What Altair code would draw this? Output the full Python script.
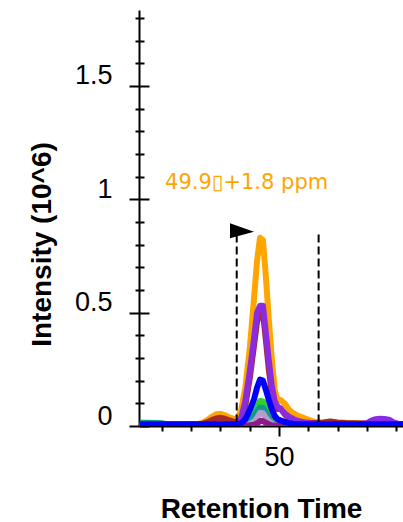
import altair as alt
import pandas as pd

# Retention times (min) of the sampled chromatogram points
rt = [40.5, 41.0, 41.5, 42.0, 42.5, 43.0, 43.5, 44.0, 44.5, 44.8,
      45.1, 45.4, 45.7, 46.0, 46.3, 46.6, 46.9, 47.1, 47.4, 47.7,
      48.0, 48.3, 48.5, 48.7, 48.9, 49.1, 49.3, 49.5, 49.7, 49.9,
      50.1, 50.4, 50.7, 51.0, 51.3, 51.7, 52.1, 52.5, 53.0, 53.5,
      54.0, 54.5, 55.0, 55.5, 56.0, 56.3, 56.6, 56.9, 57.2, 57.5,
      57.8, 58.1, 58.5]

# Intensities (10^6) per transition, in drawing order
orange = [0.007, 0.007, 0.008, 0.007, 0.008, 0.007, 0.008, 0.008, 0.009, 0.014,
          0.026, 0.040, 0.052, 0.053, 0.047, 0.038, 0.032, 0.030, 0.065, 0.17,
          0.34, 0.57, 0.73, 0.83, 0.82, 0.66, 0.47, 0.30, 0.16, 0.115,
          0.115, 0.098, 0.070, 0.055, 0.045, 0.035, 0.025, 0.017, 0.013, 0.014,
          0.013, 0.014, 0.012, 0.012, 0.011, 0.010, 0.010, 0.011, 0.010, 0.010,
          0.010, 0.009, 0.009]
brown = [0.006, 0.006, 0.006, 0.006, 0.006, 0.006, 0.006, 0.006, 0.007, 0.010,
         0.017, 0.026, 0.033, 0.036, 0.032, 0.025, 0.019, 0.016, 0.028, 0.09,
         0.21, 0.36, 0.46, 0.50, 0.50, 0.38, 0.25, 0.15, 0.09, 0.075,
         0.078, 0.050, 0.035, 0.025, 0.020, 0.016, 0.014, 0.013, 0.016, 0.020,
         0.016, 0.013, 0.012, 0.011, 0.010, 0.009, 0.009, 0.010, 0.009, 0.009,
         0.008, 0.008, 0.008]
violet = [0.007, 0.007, 0.007, 0.007, 0.007, 0.007, 0.007, 0.007, 0.007, 0.007,
          0.007, 0.007, 0.007, 0.007, 0.007, 0.007, 0.007, 0.010, 0.030, 0.11,
          0.24, 0.39, 0.50, 0.53, 0.53, 0.41, 0.29, 0.18, 0.11, 0.085,
          0.075, 0.055, 0.040, 0.030, 0.022, 0.016, 0.012, 0.010, 0.009, 0.009,
          0.009, 0.009, 0.009, 0.009, 0.012, 0.024, 0.030, 0.032, 0.031, 0.028,
          0.016, 0.010, 0.009]
green = [0.004, 0.004, 0.004, 0.004, 0.004, 0.004, 0.004, 0.004, 0.004, 0.004,
         0.004, 0.004, 0.004, 0.004, 0.004, 0.004, 0.004, 0.004, 0.004, 0.010,
         0.025, 0.055, 0.085, 0.110, 0.108, 0.080, 0.055, 0.035, 0.020, 0.012,
         0.008, 0.004, 0.004, 0.004, 0.004, 0.004, 0.004, 0.004, 0.004, 0.004,
         0.004, 0.004, 0.004, 0.004, 0.004, 0.004, 0.004, 0.004, 0.004, 0.004,
         0.004, 0.004, 0.004]
teal = [0.014, 0.014, 0.013, 0.012, 0.006, 0.005, 0.005, 0.005, 0.005, 0.005,
        0.005, 0.005, 0.005, 0.005, 0.005, 0.005, 0.005, 0.005, 0.005, 0.008,
        0.020, 0.045, 0.065, 0.082, 0.080, 0.060, 0.040, 0.025, 0.015, 0.010,
        0.005, 0.005, 0.005, 0.005, 0.005, 0.005, 0.005, 0.005, 0.005, 0.005,
        0.005, 0.005, 0.005, 0.005, 0.005, 0.005, 0.005, 0.005, 0.005, 0.005,
        0.005, 0.005, 0.005]
lilac = [0.003, 0.003, 0.003, 0.003, 0.003, 0.003, 0.003, 0.003, 0.003, 0.003,
         0.003, 0.003, 0.003, 0.003, 0.003, 0.003, 0.003, 0.003, 0.003, 0.004,
         0.008, 0.020, 0.035, 0.058, 0.056, 0.035, 0.020, 0.010, 0.004, 0.003,
         0.003, 0.003, 0.003, 0.003, 0.003, 0.003, 0.003, 0.003, 0.003, 0.003,
         0.003, 0.003, 0.003, 0.003, 0.003, 0.003, 0.003, 0.003, 0.003, 0.003,
         0.003, 0.003, 0.003]
plum = [0.002, 0.002, 0.002, 0.002, 0.002, 0.002, 0.002, 0.002, 0.002, 0.002,
        0.002, 0.002, 0.002, 0.002, 0.002, 0.002, 0.002, 0.002, 0.002, 0.002,
        0.003, 0.006, 0.012, 0.022, 0.022, 0.014, 0.008, 0.003, 0.002, 0.002,
        0.002, 0.002, 0.002, 0.002, 0.002, 0.002, 0.002, 0.002, 0.002, 0.002,
        0.002, 0.002, 0.002, 0.002, 0.002, 0.002, 0.002, 0.002, 0.002, 0.002,
        0.002, 0.002, 0.002]
blue = [0.008, 0.008, 0.008, 0.008, 0.008, 0.008, 0.008, 0.008, 0.008, 0.008,
        0.008, 0.008, 0.008, 0.008, 0.008, 0.008, 0.008, 0.008, 0.012, 0.030,
        0.070, 0.120, 0.170, 0.205, 0.200, 0.160, 0.115, 0.075, 0.045, 0.030,
        0.025, 0.018, 0.012, 0.009, 0.008, 0.008, 0.008, 0.008, 0.008, 0.008,
        0.008, 0.008, 0.008, 0.008, 0.008, 0.008, 0.008, 0.008, 0.008, 0.008,
        0.008, 0.008, 0.008]

series_names = ["s1", "s2", "s3", "s4", "s5", "s6", "s7", "s8"]
series_values = [orange, brown, violet, green, teal, lilac, plum, blue]
series_colors = ["#FFA500", "#A52A2A", "#8A2BE2", "#32CD32", "#0E9A8E",
                 "#B49CCB", "#8B1A8B", "#0000FF"]

# Peak integration boundaries and apex flag
boundary_rt = [47.11, 52.70]
boundary_top = [0.845, 0.845]
boundary_bottom = [0.018, 0.018]
flag_rt = [47.47]
flag_y = [0.861]
label_text = ["49.9\u25af+1.8 ppm"]
label_rt = [42.22]
label_y = [1.047]

y_ticks = [0.0, 0.1, 0.2, 0.3, 0.4, 0.5, 0.6, 0.7, 0.8, 0.9,
           1.0, 1.1, 1.2, 1.3, 1.4, 1.5, 1.6, 1.7, 1.8]
x_ticks = [42, 44, 46, 48, 50, 52, 54, 56, 58]

rows = []
for k, (name, vals) in enumerate(zip(series_names, series_values)):
    for t, v in zip(rt, vals):
        rows.append({"rt": t, "intensity": v, "series": name, "k": k})
df = pd.DataFrame(rows)

bounds = pd.DataFrame({"rt": boundary_rt, "top": boundary_top, "bottom": boundary_bottom})
flag = pd.DataFrame({"rt": flag_rt, "y": flag_y})
label = pd.DataFrame({"rt": label_rt, "y": label_y, "text": label_text})

W, H = 264, 416
xscale = alt.Scale(domain=[40.44, 58.46], nice=False, zero=False)
yscale = alt.Scale(domain=[0, 1.835], nice=False, zero=False)

major_y = "abs(datum.value*2 - round(datum.value*2)) < 0.001"
major_x = "datum.value == 50"
FONT = "Liberation Sans"

y_axis_left = alt.Axis(
    values=y_ticks, orient="left",
    tickSize={"condition": {"test": major_y, "value": 10}, "value": 4},
    tickWidth=2, tickColor="black", domainColor="black", domainWidth=2,
    labelExpr=f"{major_y} ? format(datum.value, '~g') : ''",
    labelFont=FONT, labelFontSize=27, labelColor="black",
    labelPadding=17, labelBaseline="alphabetic", labelOffset=-2,
    grid=False, title="Intensity (10^6)", titleFont=FONT, titleFontSize=28,
    titleFontWeight="bold", titleColor="black", titleBaseline="alphabetic",
    titleAngle=270, titleX=-89, titleY=234, titleAlign="center")

x_axis_bottom = alt.Axis(
    values=x_ticks, orient="bottom",
    tickSize={"condition": {"test": major_x, "value": 10}, "value": 5},
    tickWidth=2, tickColor="black", domainColor="black", domainWidth=2,
    labelExpr=f"{major_x} ? '50' : ''",
    labelFont=FONT, labelFontSize=27, labelColor="black",
    labelPadding=8, labelBaseline="top", labelFlush=False, labelOverlap=False,
    grid=False, title="Retention Time", titleFont=FONT, titleFontSize=28,
    titleFontWeight="bold", titleColor="black", titleBaseline="alphabetic",
    titleX=122, titleY=91, titleAlign="center")

y_axis_inner = alt.Axis(
    values=y_ticks, orient="right", offset=-W,
    tickSize={"condition": {"test": major_y, "value": 10}, "value": 5},
    tickWidth=2, tickColor="black", domain=False, labels=False, grid=False, title="")

x_axis_inner = alt.Axis(
    values=[50], orient="top", offset=-H, tickSize=8, tickWidth=2,
    tickColor="black", domain=False, labels=False, grid=False, title="")

lines = alt.Chart(df).mark_line(strokeWidth=6, clip=True, strokeJoin="round").encode(
    x=alt.X("rt:Q", scale=xscale, axis=x_axis_bottom),
    y=alt.Y("intensity:Q", scale=yscale, axis=y_axis_left),
    color=alt.Color("series:N", scale=alt.Scale(domain=series_names, range=series_colors), legend=None),
    order=alt.Order("rt:Q"),
)

inner = alt.Chart(df).mark_point(opacity=0).encode(
    x=alt.X("rt:Q", scale=xscale, axis=x_axis_inner),
    y=alt.Y("intensity:Q", scale=yscale, axis=y_axis_inner),
)

rules = alt.Chart(bounds).mark_rule(color="black", strokeWidth=2, strokeDash=[8, 4]).encode(
    x=alt.X("rt:Q", scale=xscale, axis=None),
    y=alt.Y("top:Q", scale=yscale, axis=None),
    y2="bottom:Q",
)

flag_mark = alt.Chart(flag).mark_point(
    shape="M-1,-0.625L1,0.075L-1,0.625Z", size=576, filled=True,
    color="black", opacity=1, strokeWidth=0).encode(
    x=alt.X("rt:Q", scale=xscale, axis=None),
    y=alt.Y("y:Q", scale=yscale, axis=None),
)

text_mark = alt.Chart(label).mark_text(
    align="left", baseline="alphabetic", font="DejaVu Sans", fontSize=21,
    color="#FFA500").encode(
    x=alt.X("rt:Q", scale=xscale, axis=None),
    y=alt.Y("y:Q", scale=yscale, axis=None),
    text="text:N",
)

chart = alt.layer(lines, inner, rules, flag_mark, text_mark).resolve_axis(
    x="independent", y="independent"
).properties(
    width=W, height=H,
    autosize=alt.AutoSizeParams(type="none"),
    padding={"left": 139, "top": 10, "right": 0, "bottom": 96},
    background="white",
).configure_view(strokeWidth=0)

chart.save("out.html", embed_options={"renderer": "svg", "actions": False})
